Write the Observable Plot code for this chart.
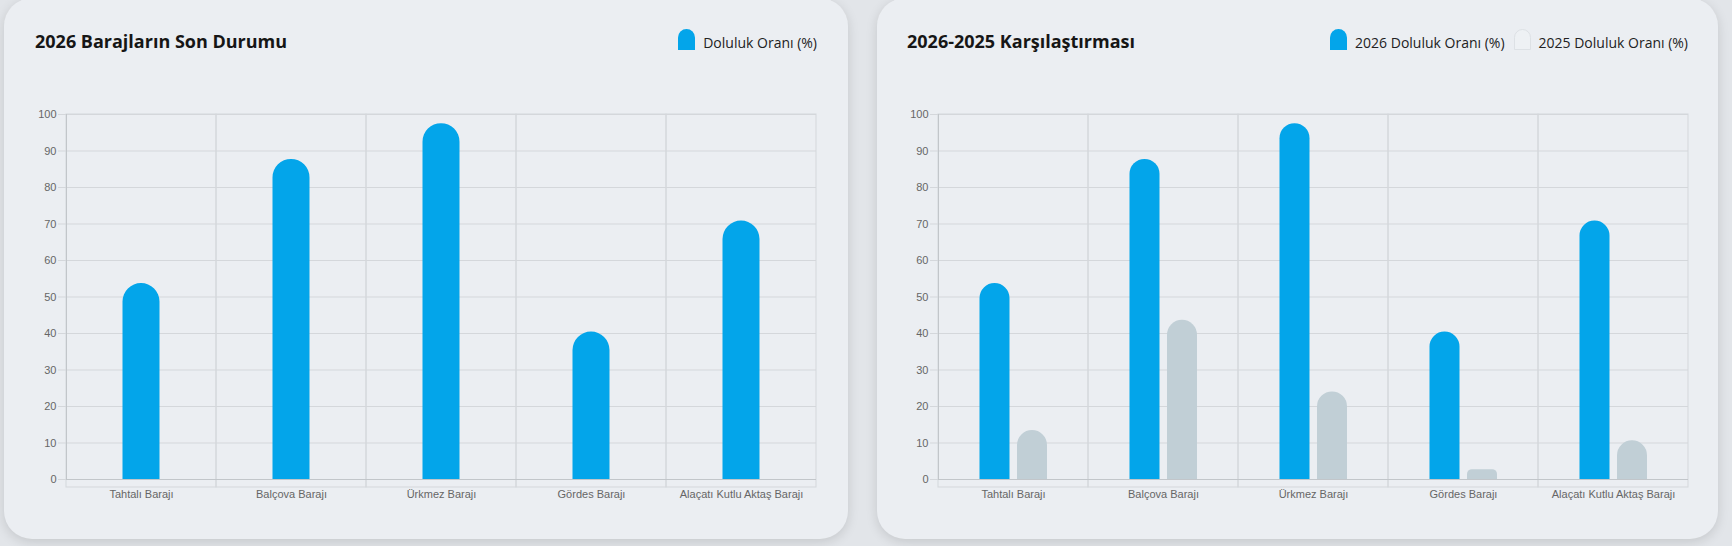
<!DOCTYPE html>
<html>
<head>
<meta charset="utf-8">
<script src="https://cdn.jsdelivr.net/npm/d3@7"></script>
<script src="https://cdn.jsdelivr.net/npm/@observablehq/plot@0.6"></script>
<style>
  html, body { margin: 0; padding: 0; }
  body {
    width: 1732px; height: 546px; overflow: hidden; position: relative;
    background: #e2e5e9;
    font-family: "Open Sans", "Noto Sans", sans-serif;
  }
  .card {
    position: absolute; top: -2px; height: 541px;
    background: #ebeef2; border-radius: 28px;
    box-shadow: 0 3px 12px rgba(0, 0, 0, 0.13);
  }
  .title {
    position: absolute; top: 30px;
    font-weight: 700; font-size: 18px; line-height: 23px; color: #161616;
  }
  .legend {
    position: absolute; top: 29px;
    display: flex; align-items: flex-start; gap: 9px;
  }
  .item { display: flex; align-items: flex-start; gap: 8px; font-size: 14px; color: #222; }
  .item span { margin-top: 4px; }
  .sw { width: 17px; height: 21px; border-radius: 8.5px 8.5px 0 0; box-sizing: border-box; }
  .chart { position: absolute; top: 100px; }
  .chart svg { overflow: visible; }
</style>
</head>
<body>
<div class="card" style="left:4px; width:844px;"></div>
<div class="card" style="left:877px; width:841px;"></div>
<div class="title" style="left:35px;">2026 Barajların Son Durumu</div>
<div class="title" style="left:907px;">2026-2025 Karşılaştırması</div>
<div class="legend" id="legend-left" style="right:915px;"></div>
<div class="legend" id="legend-right" style="right:44px;"></div>
<div class="chart" id="chart-left" style="left:0px;"></div>
<div class="chart" id="chart-right" style="left:866px;"></div>
<script>
// Dams and their fill rates (%)
const dams = ["Tahtalı Barajı", "Balçova Barajı", "Ürkmez Barajı", "Gördes Barajı", "Alaçatı Kutlu Aktaş Barajı"];
const fill2026 = [53.7, 87.7, 97.5, 40.4, 70.8];
const fill2025 = [13.4, 43.6, 24.0, 2.7, 10.6];
const yTicks = [0, 10, 20, 30, 40, 50, 60, 70, 80, 90, 100];
const leftSeries = ["Doluluk Oranı (%)"];
const rightSeries = ["2026 Doluluk Oranı (%)", "2025 Doluluk Oranı (%)"];

const BLUE = "#03a5ea";
const GRAY = "#c1cfd6";
const GRID = "#d4d7db";
const AXIS = "#c2c6ca";
const TICK_TEXT = "#666";

// Legends
function legend(el, labels, swatches) {
  labels.forEach((label, i) => {
    const item = document.createElement("div");
    item.className = "item";
    const sw = document.createElement("div");
    sw.className = "sw";
    sw.style.background = swatches[i].fill;
    if (swatches[i].stroke) sw.style.border = "1px solid " + swatches[i].stroke;
    const t = document.createElement("span");
    t.textContent = label;
    item.append(sw, t);
    el.append(item);
  });
}
legend(document.getElementById("legend-left"), leftSeries, [{fill: BLUE}]);
legend(document.getElementById("legend-right"), rightSeries, [{fill: BLUE}, {fill: "#eef1f4", stroke: "#dde1e5"}]);

// Bars with rounded tops and square bottoms, drawn as paths from the x and y scales.
// offset: distance of the bar's left edge from the start of its band; barW: bar width.
function roundedBars(values, {color, offset, barW}) {
  const rows = values.map((v, i) => ({name: dams[i], v}));
  return Plot.barY(rows, {
    x: "name", y: "v", fill: color,
    render(index, scales) {
      const g = d3.create("svg:g");
      for (const i of index) {
        const x0 = scales.x(rows[i].name) + offset;
        const x1 = x0 + barW;
        const yb = scales.y(0);
        const yt = scales.y(rows[i].v);
        const r = Math.min(barW / 2, (yb - yt) / 2);
        const p = d3.path();
        p.moveTo(x0, yb);
        p.lineTo(x0, yt + r);
        p.arcTo(x0, yt, x0 + r, yt, r);
        p.lineTo(x1 - r, yt);
        p.arcTo(x1, yt, x1, yt + r, r);
        p.lineTo(x1, yb);
        p.closePath();
        g.append("path").attr("d", p.toString()).attr("fill", color);
      }
      return g.node();
    }
  });
}

function frameMarks() {
  return [
    Plot.gridY(yTicks, {stroke: GRID, strokeOpacity: 1}),
    Plot.barY(dams, {x: d => d, y1: 0, y2: 100, fill: "none", stroke: GRID, insetBottom: -8}),
    Plot.axisY(yTicks, {tickSize: 8, tickPadding: 2, stroke: GRID, fill: TICK_TEXT, fontSize: 11, label: null}),
    Plot.axisX({tickSize: 0, tickPadding: 11, fill: TICK_TEXT, fontSize: 11, label: null}),
    Plot.ruleY([0], {stroke: AXIS}),
    Plot.frame({anchor: "left", stroke: AXIS})
  ];
}

const common = {
  width: 866, height: 420, marginTop: 14, marginBottom: 41,
  x: {domain: dams, padding: 0, label: null},
  y: {domain: [0, 100], label: null},
  style: {background: "transparent", fontFamily: "'Liberation Sans', Arial, sans-serif", overflow: "visible"}
};

document.getElementById("chart-left").append(Plot.plot({
  ...common,
  marginLeft: 66, marginRight: 50,
  marks: [
    ...frameMarks(),
    roundedBars(fill2026, {color: BLUE, offset: 56.5, barW: 37})
  ]
}));

document.getElementById("chart-right").append(Plot.plot({
  ...common,
  marginLeft: 72, marginRight: 44,
  marks: [
    ...frameMarks(),
    roundedBars(fill2026, {color: BLUE, offset: 41.5, barW: 30}),
    roundedBars(fill2025, {color: GRAY, offset: 79, barW: 30})
  ]
}));
</script>
</body>
</html>
